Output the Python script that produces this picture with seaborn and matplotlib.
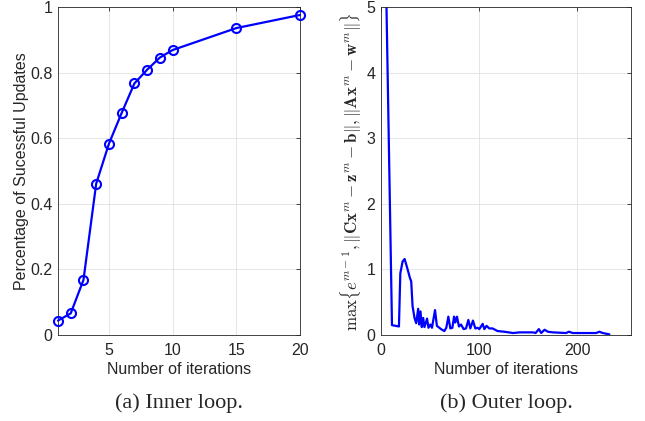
import numpy as np
import pandas as pd
import matplotlib
matplotlib.use('Agg')
import matplotlib.pyplot as plt
import seaborn as sns

# inner loop: success rate vs number of inner iterations
inner_iters = [1, 2, 3, 4, 5, 6, 7, 8, 9, 10, 15, 20]
success_rate = [0.044, 0.066, 0.168, 0.462, 0.584, 0.678, 0.768, 0.810, 0.847, 0.870, 0.937, 0.977]

# outer loop: residual trace
outer_iters = [1, 11.2, 18.3, 19.7, 22.0, 24.1, 26.8, 29.5, 30.8, 32.2, 34.2, 35.9, 37.9, 38.9,
               40.3, 41.6, 43.0, 44.3, 47.0, 48.4, 50.4, 52.0, 55.1, 57.0, 61.2, 64.6, 66.6,
               68.7, 70.7, 72.8, 74.5, 75.8, 77.5, 79.5, 81.6, 84.3, 86.7, 89.1, 91.1, 93.8,
               96.2, 98.6, 100.3, 103.7, 105.4, 107.7, 110.4, 113.8, 118.9, 125.7, 134.6,
               141.4, 155.0, 157.7, 161.0, 163.4, 166.8, 170.2, 175.3, 188.9, 191.6, 195.6,
               202.4, 219.4, 222.8, 226.1, 232.9]
residual = [9.0, 0.15, 0.13, 0.94, 1.12, 1.16, 1.02, 0.87, 0.82, 0.44, 0.26, 0.18, 0.40, 0.16,
            0.36, 0.12, 0.26, 0.12, 0.25, 0.11, 0.16, 0.11, 0.38, 0.14, 0.09, 0.06, 0.11,
            0.28, 0.10, 0.11, 0.28, 0.19, 0.28, 0.13, 0.16, 0.09, 0.10, 0.23, 0.10, 0.22,
            0.10, 0.11, 0.09, 0.17, 0.09, 0.14, 0.10, 0.10, 0.06, 0.05, 0.03,
            0.04, 0.04, 0.03, 0.09, 0.03, 0.08, 0.05, 0.04, 0.03, 0.05, 0.03,
            0.03, 0.03, 0.05, 0.03, 0.01]

df_in = pd.DataFrame({'it': inner_iters, 'rate': success_rate})
df_out = pd.DataFrame({'it': outer_iters, 'res': residual})

sns.set_style('whitegrid')
plt.rcParams['font.family'] = ['Liberation Sans', 'DejaVu Sans']
plt.rcParams['mathtext.fontset'] = 'cm'

txt_c = '0.15'
fs = 11.5
fig = plt.figure(figsize=(6.45, 4.21), dpi=100)
ax1 = fig.add_axes([0.0899, 0.2043, 0.3752, 0.778])
ax2 = fig.add_axes([0.5907, 0.2043, 0.3876, 0.778])

sns.lineplot(data=df_in, x='it', y='rate', ax=ax1, color='#0000ff', lw=1.6,
             marker='o', markersize=6.5, markerfacecolor='none',
             markeredgecolor='#0000ff', markeredgewidth=1.5, clip_on=False, zorder=5)
sns.lineplot(data=df_out, x='it', y='res', ax=ax2, color='#0000ff', lw=1.6, sort=False)

ax1.set_xlim(1, 20)
ax1.set_ylim(0, 1)
ax1.set_xticks([5, 10, 15, 20])
ax1.set_yticks([0, 0.2, 0.4, 0.6, 0.8, 1])
ax1.set_yticklabels(['0', '0.2', '0.4', '0.6', '0.8', '1'])
ax1.set_xlabel('Number of iterations', fontsize=fs, color=txt_c, labelpad=3)
ax1.set_ylabel('Percentage of Sucessful Updates', fontsize=fs, color=txt_c, labelpad=1)

ax2.set_xlim(0, 255)
ax2.set_ylim(0, 5)
ax2.set_xticks([0, 100, 200])
ax2.set_yticks([0, 1, 2, 3, 4, 5])
ax2.set_xlabel('Number of iterations', fontsize=fs, color=txt_c, labelpad=3)
ax2.set_ylabel(r'$\max\{e^{m-1},\|\mathbf{C}\mathbf{x}^m-\mathbf{z}^m-\mathbf{b}\|,'
               r'\|\mathbf{A}\mathbf{x}^m-\mathbf{w}^m\|\}$', fontsize=12.2, color=txt_c, labelpad=2)

for ax in (ax1, ax2):
    ax.grid(True, color='0.88', lw=0.6)
    ax.tick_params(direction='in', length=3, width=0.6, colors=txt_c, labelsize=fs,
                   top=True, right=True, pad=6)
    ax.tick_params(axis='y', pad=4)
    for s in ax.spines.values():
        s.set_visible(True)
        s.set_color(txt_c)
        s.set_linewidth(0.6)

fig.text(0.2775, 0.043, '(a) Inner loop.', ha='center', va='center', fontsize=16,
         family='Liberation Serif')
fig.text(0.7845, 0.043, '(b) Outer loop.', ha='center', va='center', fontsize=16,
         family='Liberation Serif')

fig.savefig('out.png', dpi=100)
